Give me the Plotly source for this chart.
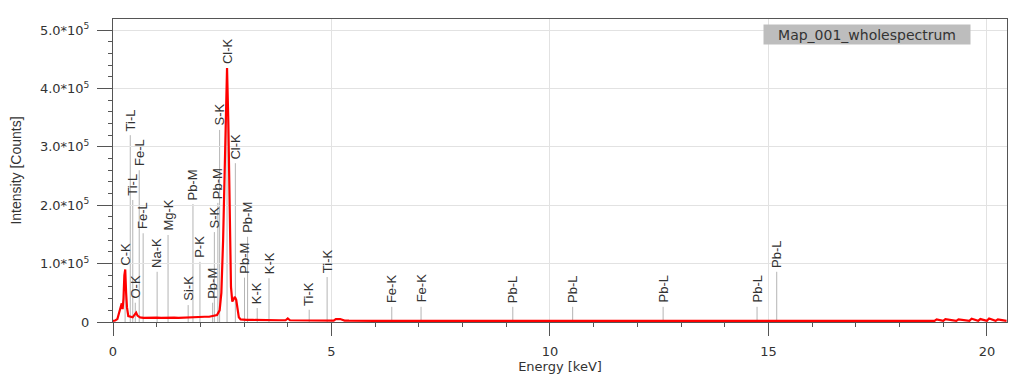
import plotly.graph_objects as go

# Spectrum (Energy keV, Intensity counts)
energy = [0.00, 0.05, 0.10, 0.14, 0.17, 0.20, 0.22, 0.24, 0.26, 0.28, 0.30, 0.32, 0.35, 0.40, 0.45,
          0.50, 0.53, 0.56, 0.62, 0.70, 0.80, 0.90, 1.00, 1.10, 1.20, 1.30, 1.40, 1.50, 1.60, 1.70,
          1.80, 1.90, 2.00, 2.10, 2.20, 2.30, 2.38, 2.44, 2.48, 2.52, 2.55, 2.58, 2.61, 2.64, 2.67,
          2.70, 2.73, 2.76, 2.79, 2.82, 2.85, 2.88, 2.92, 2.97, 3.05, 3.20, 3.40, 3.60, 3.80, 3.95,
          4.00, 4.05, 4.20, 4.50, 4.80, 5.05, 5.10, 5.20, 5.30, 5.40, 6.0, 7.0, 8.0, 9.0, 10.0,
          11.0, 12.0, 13.0, 14.0, 15.0, 16.0, 17.0, 18.0, 18.8, 18.85, 19.0, 19.05, 19.3, 19.35, 19.6,
          19.65, 19.8, 19.85, 20.0, 20.05, 20.2, 20.25, 20.45]
counts = [2000, 2500, 5000, 15000, 25000, 32000, 22000, 40000, 80000, 90000, 50000, 25000, 10000, 9000, 8000,
          13000, 16000, 11000, 8000, 7000, 7500, 8000, 7500, 7000, 7500, 8000, 7500, 7000, 7500, 8000,
          7500, 8000, 8500, 9000, 9000, 10000, 12000, 20000, 50000, 140000, 250000, 370000, 435000, 340000, 160000,
          60000, 35000, 38000, 43000, 38000, 20000, 8000, 4500, 4000, 3500, 3500, 3000, 3500, 3000, 3000,
          6000, 3000, 2800, 2500, 2500, 2500, 5000, 5000, 2500, 2200, 2000, 2000, 2000, 2000, 2000,
          2000, 2000, 2000, 2000, 2000, 2000, 2000, 2000, 2000, 4500, 2000, 5000, 2000, 4500, 2000,
          5500, 2000, 5000, 2000, 6000, 2000, 4500, 2000]

# Peak markers
peak_labels = ["C-K", "Ti-L", "Ti-L", "O-K", "Fe-L", "Fe-L", "Na-K", "Mg-K", "Si-K", "Pb-M",
               "P-K", "Pb-M", "S-K", "Pb-M", "S-K", "Cl-K", "Cl-K", "Pb-M", "Pb-M", "K-K",
               "K-K", "Ti-K", "Ti-K", "Fe-K", "Fe-K", "Pb-L", "Pb-L", "Pb-L", "Pb-L", "Pb-L"]
peak_energy = [0.277, 0.395, 0.452, 0.51, 0.60, 0.69, 1.01, 1.26, 1.72, 1.83,
               1.99, 2.28, 2.32, 2.40, 2.44, 2.61, 2.80, 3.01, 3.08, 3.30,
               3.57, 4.49, 4.90, 6.38, 7.05, 9.15, 10.52, 12.59, 14.74, 15.19]
peak_height = [89000, 320000, 209000, 33000, 260000, 152000, 86000, 149000, 29000, 202000,
               103000, 33000, 154000, 204000, 329000, 435000, 272000, 76000, 146000, 24000,
               75000, 21000, 77000, 26000, 26000, 26000, 26000, 26000, 26000, 86000]

y_tickvals = [0, 100000, 200000, 300000, 400000, 500000]
y_ticktext = ["0", "1.0*10<sup>5</sup>", "2.0*10<sup>5</sup>", "3.0*10<sup>5</sup>",
              "4.0*10<sup>5</sup>", "5.0*10<sup>5</sup>"]
x_tickvals = [0, 5, 10, 15, 20]

series_name = "Map_001_wholespectrum"

FONT = "Liberation Sans, Arial, sans-serif"
WFONT = "DejaVu Sans, sans-serif"
TXT = "#333333"

fig = go.Figure()

# peak marker lines
for e, h in zip(peak_energy, peak_height):
    fig.add_shape(type="line", x0=e, x1=e, y0=0, y1=h, xref="x", yref="y",
                  line=dict(color="#b4b4b4", width=1), layer="below")

fig.add_trace(go.Scatter(x=energy, y=counts, mode="lines", name=series_name,
                         line=dict(color="#ff0000", width=2.2), showlegend=False))

for lab, e, h in zip(peak_labels, peak_energy, peak_height):
    fig.add_annotation(x=e, y=h, text=lab, textangle=-90, showarrow=False,
                       xanchor="center", yanchor="bottom", yshift=2,
                       font=dict(family=FONT, size=13, color=TXT))

fig.add_annotation(x=(867 - 113) / 894, y=(322 - 34) / 303, xref="paper", yref="paper",
                   xanchor="center", yanchor="middle",
                   text=series_name, showarrow=False, bgcolor="#bdbdbd", width=204, height=17,
                   font=dict(family=WFONT, size=14, color=TXT))

fig.update_layout(
    width=1026, height=384,
    margin=dict(l=105, r=27, t=11, b=70, autoexpand=False),
    paper_bgcolor="white", plot_bgcolor="white",
    font=dict(family=WFONT, size=13, color=TXT),
    showlegend=False,
)
fig.update_xaxes(
    automargin=False,
    range=[0, 20.46], tickvals=x_tickvals, ticks="outside", ticklen=13, tickcolor="#555555",
    ticklabelstandoff=4,
    showline=True, linecolor="#555555", linewidth=1, mirror=True,
    showgrid=True, gridcolor="#e2e2e2", gridwidth=1, zeroline=False,
    minor=dict(dtick=1, ticks="outside", ticklen=4, tickcolor="#555555", showgrid=False),
    title=dict(text="Energy [keV]", font=dict(family=WFONT, size=13, color=TXT), standoff=0),
    tickfont=dict(family=WFONT, size=13, color=TXT),
)
fig.update_yaxes(
    automargin=False,
    range=[0, 519000], tickvals=y_tickvals, ticktext=y_ticktext, ticks="outside", ticklen=15,
    tickcolor="#555555", ticklabelstandoff=5,
    showline=True, linecolor="#555555", linewidth=1, mirror=True,
    showgrid=True, gridcolor="#e2e2e2", gridwidth=1, zeroline=False,
    minor=dict(dtick=20000, ticks="outside", ticklen=4, tickcolor="#555555", showgrid=False),
    title=dict(text="Intensity [Counts]", font=dict(family=FONT, size=14, color=TXT), standoff=22),
    tickfont=dict(family=WFONT, size=13, color=TXT),
)

fig.write_html("out.html")
